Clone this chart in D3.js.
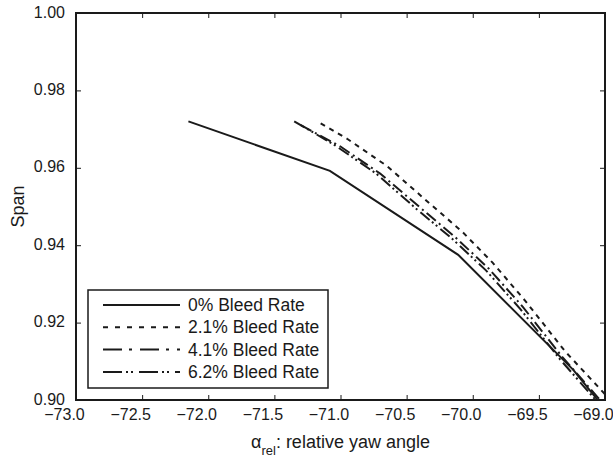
<!DOCTYPE html>
<html>
<head>
<meta charset="utf-8">
<script src="https://cdn.jsdelivr.net/npm/d3@7/dist/d3.min.js"></script>
<style>
  html, body { margin: 0; padding: 0; background: #fff; }
  svg { display: block; font-family: "Liberation Sans", Arial, sans-serif; }
</style>
</head>
<body>
<svg id="chart" width="613" height="464"></svg>
<script>
// ---- Data ----
const seriesNames = ["0% Bleed Rate", "2.1% Bleed Rate", "4.1% Bleed Rate", "6.2% Bleed Rate"];

const bleed0x = [-72.15, -71.08, -70.11, -69.24, -69.02];
const bleed0y = [0.972, 0.9592, 0.9375, 0.9078, 0.8985];

const bleed21x = [-71.15, -70.95, -70.65, -70.35, -70.08, -69.85, -69.6, -69.3, -69.0, -68.95];
const bleed21y = [0.9715, 0.9675, 0.9605, 0.9515, 0.9435, 0.9355, 0.9255, 0.9125, 0.9015, 0.8995];

const bleed41x = [-71.3, -71.0, -70.7, -70.4, -70.13, -69.88, -69.62, -69.32, -69.05, -69.0];
const bleed41y = [0.971, 0.9655, 0.9585, 0.9498, 0.942, 0.934, 0.924, 0.911, 0.9005, 0.8985];

const bleed62x = [-71.35, -71.05, -70.73, -70.43, -70.15, -69.9, -69.64, -69.34, -69.07, -69.02];
const bleed62y = [0.972, 0.966, 0.9585, 0.9495, 0.9415, 0.9335, 0.9235, 0.9105, 0.9, 0.898];

const xTicks = [-73.0, -72.5, -72.0, -71.5, -71.0, -70.5, -70.0, -69.5, -69.0];
const yTicks = [0.90, 0.92, 0.94, 0.96, 0.98, 1.00];

// ---- Styles (separate from data) ----
const plotDash = [null, "5,5", "12,4,2,4", "12,3,2,3,2,4"];
const legendDash = [null, "5,7", "19,7,3,8", "19,4,2,3,2,6"];

// ---- Layout ----
const W = 613, H = 464;
const m = { left: 76, top: 13, right: 8, bottom: 64 };
const iw = W - m.left - m.right, ih = H - m.top - m.bottom;

const svg = d3.select("#chart");
const x = d3.scaleLinear().domain([-73, -69]).range([0, iw]);
const y = d3.scaleLinear().domain([0.9, 1.0]).range([ih, 0]);

const g = svg.append("g").attr("transform", `translate(${m.left},${m.top})`);

g.append("clipPath").attr("id", "clip")
  .append("rect").attr("width", iw).attr("height", ih);

const series = [
  d3.zip(bleed0x, bleed0y),
  d3.zip(bleed21x, bleed21y),
  d3.zip(bleed41x, bleed41y),
  d3.zip(bleed62x, bleed62y)
];

const line = d3.line().x(d => x(d[0])).y(d => y(d[1]));

const lines = g.append("g").attr("clip-path", "url(#clip)");
series.forEach((s, i) => {
  lines.append("path")
    .datum(s)
    .attr("d", line)
    .attr("fill", "none")
    .attr("stroke", "#1a1a1a")
    .attr("stroke-width", 2)
    .attr("stroke-dasharray", plotDash[i]);
});

// ---- Axes ----
const fontSize = 16;
const xAxis = d3.axisBottom(x).tickValues(xTicks).tickFormat(d3.format(".1f"))
  .tickSizeInner(-5).tickSizeOuter(0).tickPadding(9);
const yAxis = d3.axisLeft(y).tickValues(yTicks).tickFormat(d3.format(".2f"))
  .tickSizeInner(-5).tickSizeOuter(0).tickPadding(11);
const xTop = d3.axisTop(x).tickValues(xTicks).tickFormat("")
  .tickSizeInner(-5).tickSizeOuter(0);
const yRight = d3.axisRight(y).tickValues(yTicks).tickFormat("")
  .tickSizeInner(-5).tickSizeOuter(0);

function styleAxis(sel) {
  sel.select(".domain").remove();
  sel.selectAll(".tick line").attr("stroke", "#1a1a1a").attr("stroke-width", 1);
  sel.selectAll("text").attr("font-size", fontSize).attr("fill", "#1a1a1a")
    .attr("font-family", "'Liberation Sans', Arial, sans-serif");
}

const gx = g.append("g").attr("transform", `translate(0,${ih})`).call(xAxis).call(styleAxis);
gx.selectAll(".tick text").attr("dx", -12);
const gy = g.append("g").call(yAxis).call(styleAxis);
gy.selectAll(".tick text").attr("dy", "0.25em");
g.append("g").call(xTop).call(styleAxis);
g.append("g").attr("transform", `translate(${iw},0)`).call(yRight).call(styleAxis);

// frame
g.append("rect").attr("width", iw).attr("height", ih)
  .attr("fill", "none").attr("stroke", "#1a1a1a").attr("stroke-width", 2);

// ---- Axis titles ----
const titleSize = 18;
const xt = svg.append("text")
  .attr("x", m.left + iw / 2)
  .attr("y", 448)
  .attr("text-anchor", "middle")
  .attr("font-size", titleSize)
  .attr("fill", "#1a1a1a");
xt.append("tspan").text("α");
xt.append("tspan").attr("font-size", 13).attr("dy", 7).text("rel");
xt.append("tspan").attr("dy", -7).text(": relative yaw angle");

svg.append("text")
  .attr("transform", `translate(24,${m.top + ih / 2}) rotate(-90)`)
  .attr("text-anchor", "middle")
  .attr("font-size", titleSize)
  .attr("fill", "#1a1a1a")
  .text("Span");

// ---- Legend ----
const legendSize = 17.5;
const lg = svg.append("g");
lg.append("rect")
  .attr("x", 88).attr("y", 290).attr("width", 240).attr("height", 98)
  .attr("fill", "#fff").attr("stroke", "#1a1a1a").attr("stroke-width", 1.5);

seriesNames.forEach((name, i) => {
  const yy = 305 + i * 22.3;
  lg.append("line")
    .attr("x1", 103).attr("x2", 180).attr("y1", yy).attr("y2", yy)
    .attr("stroke", "#1a1a1a").attr("stroke-width", 2)
    .attr("stroke-dasharray", legendDash[i]);
  lg.append("text")
    .attr("x", 188).attr("y", yy).attr("dy", "0.35em")
    .attr("font-size", legendSize).attr("fill", "#1a1a1a")
    .text(name);
});
</script>
</body>
</html>
